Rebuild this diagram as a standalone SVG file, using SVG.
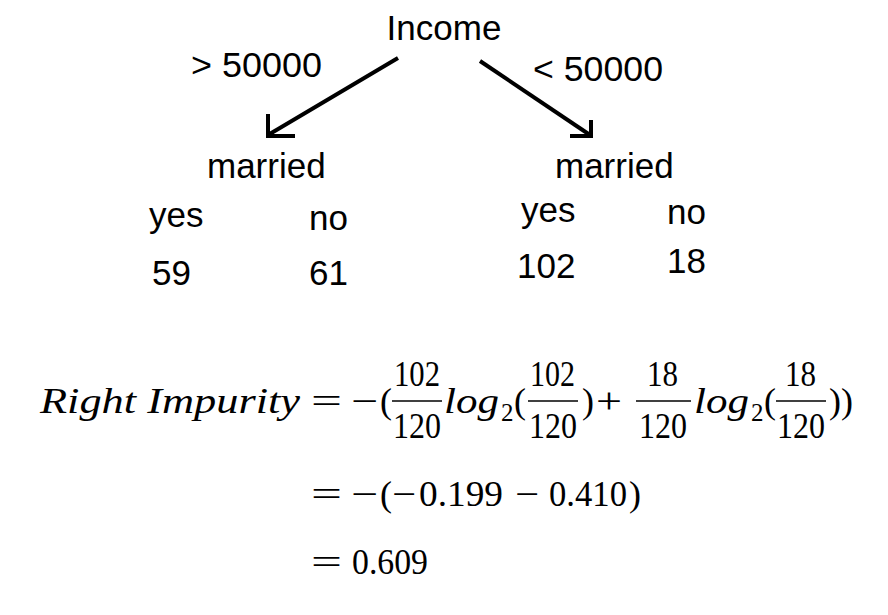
<svg xmlns="http://www.w3.org/2000/svg" width="888" height="615" viewBox="0 0 888 615">
<style>
.t{font-family:"Liberation Sans",Arial,sans-serif;font-size:35px;fill:#000}
.m{font-family:"Liberation Serif","Times New Roman",serif;font-size:36px;fill:#000}
.i{font-style:italic}
.s{font-size:25px}
.c{text-anchor:middle}
.e{stroke:#000;stroke-width:4;fill:none}
.b{stroke:#000;stroke-width:1.6}
</style>
<rect width="888" height="615" fill="#fff"/>
<g id="income"><text class="t c" x="444" y="40">Income</text></g>
<g id="connectors">
<line class="e" x1="398" y1="58" x2="268" y2="135"/>
<polyline class="e" points="268,114 268,136 295,136"/>
<line class="e" x1="480" y1="61" x2="590" y2="135"/>
<polyline class="e" points="570,136 591,136 591,120"/>
<text class="t" x="191" y="77" textLength="131" lengthAdjust="spacingAndGlyphs">&gt; 50000</text>
<text class="t" x="533" y="81" textLength="130" lengthAdjust="spacingAndGlyphs">&lt; 50000</text>
</g>
<g id="married-left">
<text class="t" x="207" y="178">married</text>
<text class="t" x="149" y="227">yes</text>
<text class="t" x="309" y="230">no</text>
<text class="t" x="152" y="285">59</text>
<text class="t" x="309" y="285">61</text>
</g>
<g id="married-right">
<text class="t" x="555" y="178">married</text>
<text class="t" x="521" y="222">yes</text>
<text class="t" x="667" y="224">no</text>
<text class="t" x="517" y="278">102</text>
<text class="t" x="667" y="273">18</text>
</g>
<g id="formula">
<text class="m i" x="40" y="413" textLength="260" lengthAdjust="spacingAndGlyphs">Right Impurity</text>
<text class="m" x="311" y="413" textLength="31" lengthAdjust="spacingAndGlyphs">=</text>
<text class="m" x="351" y="413" textLength="27" lengthAdjust="spacingAndGlyphs">−</text>
<text class="m" x="380" y="413">(</text>
<text class="m" x="394" y="386" textLength="46" lengthAdjust="spacingAndGlyphs">102</text>
<line class="b" x1="392" y1="401" x2="442" y2="401"/>
<text class="m" x="393" y="438" textLength="48" lengthAdjust="spacingAndGlyphs">120</text>
<text class="m i" x="444" y="413" textLength="55" lengthAdjust="spacingAndGlyphs">log</text>
<text class="m s" x="501" y="421">2</text>
<text class="m" x="514" y="413">(</text>
<text class="m" x="530" y="386" textLength="45" lengthAdjust="spacingAndGlyphs">102</text>
<line class="b" x1="528" y1="401" x2="578" y2="401"/>
<text class="m" x="529" y="438" textLength="48" lengthAdjust="spacingAndGlyphs">120</text>
<text class="m" x="582" y="413">)</text>
<text class="m" x="596" y="413" textLength="26" lengthAdjust="spacingAndGlyphs">+</text>
<text class="m" x="647" y="386" textLength="31" lengthAdjust="spacingAndGlyphs">18</text>
<line class="b" x1="636" y1="401" x2="691" y2="401"/>
<text class="m" x="639" y="438" textLength="48" lengthAdjust="spacingAndGlyphs">120</text>
<text class="m i" x="694" y="413" textLength="55" lengthAdjust="spacingAndGlyphs">log</text>
<text class="m s" x="751" y="421">2</text>
<text class="m" x="764" y="413">(</text>
<text class="m" x="785" y="386" textLength="31" lengthAdjust="spacingAndGlyphs">18</text>
<line class="b" x1="776" y1="401" x2="826" y2="401"/>
<text class="m" x="777" y="438" textLength="48" lengthAdjust="spacingAndGlyphs">120</text>
<text class="m" x="829" y="413">))</text>
<text class="m" x="311" y="506" textLength="31" lengthAdjust="spacingAndGlyphs">=</text>
<text class="m" x="351" y="506" textLength="27" lengthAdjust="spacingAndGlyphs">−</text>
<text class="m" x="380" y="506">(</text>
<text class="m" x="392" y="506" textLength="24" lengthAdjust="spacingAndGlyphs">−</text>
<text class="m" x="419" y="506" textLength="84" lengthAdjust="spacingAndGlyphs">0.199</text>
<text class="m" x="515" y="506" textLength="24" lengthAdjust="spacingAndGlyphs">−</text>
<text class="m" x="549" y="506" textLength="78" lengthAdjust="spacingAndGlyphs">0.410</text>
<text class="m" x="629" y="506">)</text>
<text class="m" x="311" y="574" textLength="31" lengthAdjust="spacingAndGlyphs">=</text>
<text class="m" x="352" y="574" textLength="76" lengthAdjust="spacingAndGlyphs">0.609</text>
</g>
</svg>
